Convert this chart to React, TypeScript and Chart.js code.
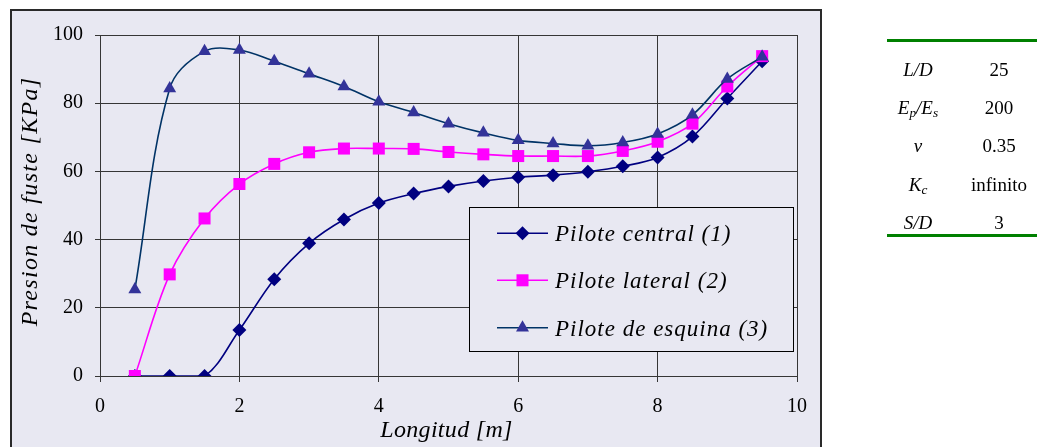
import { useEffect, useRef } from "react";
import { Chart, registerables } from "chart.js";

Chart.register(...registerables);

// Longitud del pilote [m]
const longitud = [0.5, 1, 1.5, 2, 2.5, 3, 3.5, 4, 4.5, 5, 5.5, 6, 6.5, 7, 7.5, 8, 8.5, 9, 9.5];

// Presion de fuste [KPa]
const piloteCentral = [0, 0, 0, 13.5, 28.4, 38.9, 45.9, 50.7, 53.5, 55.6, 57.2, 58.3, 58.9, 59.9, 61.5, 64.1, 70.2, 81.4, 92.3];
const piloteLateral = [0, 29.8, 46.2, 56.3, 62.2, 65.6, 66.7, 66.7, 66.6, 65.7, 65.0, 64.5, 64.5, 64.5, 66.0, 68.7, 74.0, 84.9, 93.8];
const piloteEsquina = [25.4, 84.3, 95.2, 95.6, 92.3, 88.6, 84.9, 80.4, 77.3, 74.0, 71.3, 69.1, 68.2, 67.5, 68.5, 71.0, 76.6, 87.1, 93.6];

const seriesLabels = ["Pilote central (1)", "Pilote lateral (2)", "Pilote de esquina (3)"];

// Parametros del grupo
const paramLabels = ["L/D", "Ep/Es", "ν", "Kc", "S/D"];
const paramValues = ["25", "200", "0.35", "infinito", "3"];

const SERIF = "'Liberation Serif', 'Times New Roman', serif";
const BG = "#E8E8F2";
const GRID = "#363636";

type Marker = "rectRot" | "rect" | "triangle";

function drawMarker(ctx: CanvasRenderingContext2D, style: Marker, x: number, y: number, r: number, color: string) {
  ctx.beginPath();
  if (style === "rectRot") {
    ctx.moveTo(x, y - r);
    ctx.lineTo(x + r, y);
    ctx.lineTo(x, y + r);
    ctx.lineTo(x - r, y);
  } else if (style === "rect") {
    const s = Math.SQRT1_2 * r;
    ctx.rect(x - s, y - s, 2 * s, 2 * s);
  } else {
    const w = Math.sin((2 * Math.PI) / 3) * r;
    ctx.moveTo(x, y - r);
    ctx.lineTo(x + w, y + r / 2);
    ctx.lineTo(x - w, y + r / 2);
  }
  ctx.closePath();
  ctx.fillStyle = color;
  ctx.fill();
}

const markerRadius = { rectRot: 7, rect: 8.5, triangle: 7.5 };

const legendItems: { line: string; fill: string; marker: Marker }[] = [
  { line: "#000080", fill: "#000080", marker: "rectRot" },
  { line: "#FF00FF", fill: "#FF00FF", marker: "rect" },
  { line: "#003366", fill: "#333399", marker: "triangle" },
];

const overlayPlugin = {
  id: "overlay",
  afterDraw(chart: Chart) {
    const ctx = chart.ctx as CanvasRenderingContext2D & { letterSpacing?: string };
    const area = chart.chartArea;

    // axis titles
    ctx.save();
    ctx.fillStyle = "#000";
    ctx.font = `italic 24px ${SERIF}`;
    ctx.letterSpacing = "0.3px";
    ctx.textAlign = "center";
    ctx.textBaseline = "alphabetic";
    ctx.fillText("Longitud [m]", (area.left + area.right) / 2 - 2, 426);
    ctx.restore();

    ctx.save();
    ctx.fillStyle = "#000";
    ctx.font = `italic 24px ${SERIF}`;
    ctx.letterSpacing = "1.3px";
    ctx.textAlign = "center";
    ctx.textBaseline = "alphabetic";
    ctx.translate(24.5, (area.top + area.bottom) / 2 - 4);
    ctx.rotate(-Math.PI / 2);
    ctx.fillText("Presion de fuste [KPa]", 0, 0);
    ctx.restore();

    // legend box inside plot area
    const bx = 457.5, by = 196.5, bw = 324, bh = 144;
    ctx.save();
    ctx.fillStyle = BG;
    ctx.fillRect(bx, by, bw, bh);
    ctx.strokeStyle = "#000";
    ctx.lineWidth = 1;
    ctx.strokeRect(bx, by, bw, bh);
    const rows = [222.3, 269.3, 316.7];
    legendItems.forEach((it, i) => {
      const y = rows[i];
      ctx.strokeStyle = it.line;
      ctx.lineWidth = 1.5;
      ctx.beginPath();
      ctx.moveTo(485, y);
      ctx.lineTo(536, y);
      ctx.stroke();
      drawMarker(ctx, it.marker, 510.5, y, markerRadius[it.marker], it.fill);
      ctx.fillStyle = "#000";
      ctx.font = `italic 23px ${SERIF}`;
      (ctx as any).letterSpacing = "1px";
      ctx.textAlign = "left";
      ctx.textBaseline = "alphabetic";
      ctx.fillText(seriesLabels[i], 543, y + 8);
      (ctx as any).letterSpacing = "0px";
    });
    ctx.restore();
  },
};

function PresionChart() {
  const ref = useRef<HTMLCanvasElement | null>(null);

  useEffect(() => {
    if (!ref.current) return;
    const mk = (vals: number[]) => longitud.map((x, i) => ({ x, y: vals[i] }));
    const chart = new Chart(ref.current, {
      type: "line",
      data: {
        datasets: [
          {
            label: seriesLabels[0],
            data: mk(piloteCentral),
            borderColor: "#000080",
            backgroundColor: "#000080",
            pointBackgroundColor: "#000080",
            pointBorderColor: "#000080",
            pointStyle: "rectRot",
            pointRadius: markerRadius.rectRot,
            pointBorderWidth: 0,
            borderWidth: 1.6,
            tension: 0.35,
            order: 3,
          },
          {
            label: seriesLabels[1],
            data: mk(piloteLateral),
            borderColor: "#FF00FF",
            backgroundColor: "#FF00FF",
            pointBackgroundColor: "#FF00FF",
            pointBorderColor: "#FF00FF",
            pointStyle: "rect",
            pointRadius: markerRadius.rect,
            pointBorderWidth: 0,
            borderWidth: 1.6,
            tension: 0.35,
            order: 2,
          },
          {
            label: seriesLabels[2],
            data: mk(piloteEsquina),
            borderColor: "#003366",
            backgroundColor: "#333399",
            pointBackgroundColor: "#333399",
            pointBorderColor: "#333399",
            pointStyle: "triangle",
            pointRadius: markerRadius.triangle,
            pointBorderWidth: 0,
            borderWidth: 1.6,
            tension: 0.35,
            order: 1,
          },
        ],
      },
      options: {
        animation: false,
        responsive: false,
        maintainAspectRatio: false,
        events: [],
        layout: { padding: { top: 17, right: 16, left: 0, bottom: 0 } },
        plugins: { legend: { display: false }, tooltip: { enabled: false } },
        scales: {
          x: {
            type: "linear",
            min: 0,
            max: 10,
            ticks: { stepSize: 2, color: "#000", padding: 13, font: { family: SERIF, size: 20 } },
            grid: { color: GRID, lineWidth: 1, tickLength: 6 },
            border: { color: GRID, width: 1 },
            afterFit(scale: any) {
              scale.height = 75;
            },
          },
          y: {
            type: "linear",
            min: 0,
            max: 100,
            ticks: { stepSize: 20, color: "#000", padding: 12, font: { family: SERIF, size: 20 } },
            grid: { color: GRID, lineWidth: 1, tickLength: 5 },
            border: { color: GRID, width: 1 },
            afterFit(scale: any) {
              scale.width = 88;
            },
          },
        },
      },
      plugins: [overlayPlugin],
    });
    return () => chart.destroy();
  }, []);

  return <canvas ref={ref} width={808} height={440} style={{ display: "block", width: 808, height: 440 }} />;
}

function ParamLabel({ name }: { name: string }) {
  const sub = { fontSize: "70%", verticalAlign: "-3px" };
  if (name === "Ep/Es") {
    return (
      <span>
        E<sub style={sub}>p</sub>/E<sub style={sub}>s</sub>
      </span>
    );
  }
  if (name === "Kc") {
    return (
      <span>
        K<sub style={sub}>c</sub>
      </span>
    );
  }
  return <span>{name}</span>;
}

function ParamTable() {
  const rowY = [70, 108, 146, 185, 223];
  return (
    <div style={{ position: "absolute", left: 0, top: 0, width: 1037, height: 447, pointerEvents: "none" }}>
      <div style={{ position: "absolute", left: 887, top: 39, width: 150, height: 3, background: "#008000" }} />
      <div style={{ position: "absolute", left: 887, top: 234, width: 150, height: 3, background: "#008000" }} />
      {paramLabels.map((p, i) => (
        <div
          key={p}
          style={{
            position: "absolute",
            left: 888,
            width: 60,
            top: rowY[i] - 12,
            height: 24,
            lineHeight: "24px",
            textAlign: "center",
            fontFamily: SERIF,
            fontStyle: "italic",
            fontSize: 19,
            color: "#000",
          }}
        >
          <ParamLabel name={p} />
        </div>
      ))}
      {paramValues.map((v, i) => (
        <div
          key={v}
          style={{
            position: "absolute",
            left: 959,
            width: 80,
            top: rowY[i] - 12,
            height: 24,
            lineHeight: "24px",
            textAlign: "center",
            fontFamily: SERIF,
            fontSize: 19,
            color: "#000",
          }}
        >
          {v}
        </div>
      ))}
    </div>
  );
}

export default function App() {
  return (
    <div
      style={{
        position: "fixed",
        left: 0,
        top: 0,
        width: 1037,
        height: 447,
        overflow: "hidden",
        background: "#fff",
      }}
    >
      <div
        style={{
          position: "absolute",
          left: 10,
          top: 9,
          width: 808,
          height: 460,
          border: "2px solid #2a2a2a",
          background: BG,
        }}
      >
        <PresionChart />
      </div>
      <ParamTable />
    </div>
  );
}
